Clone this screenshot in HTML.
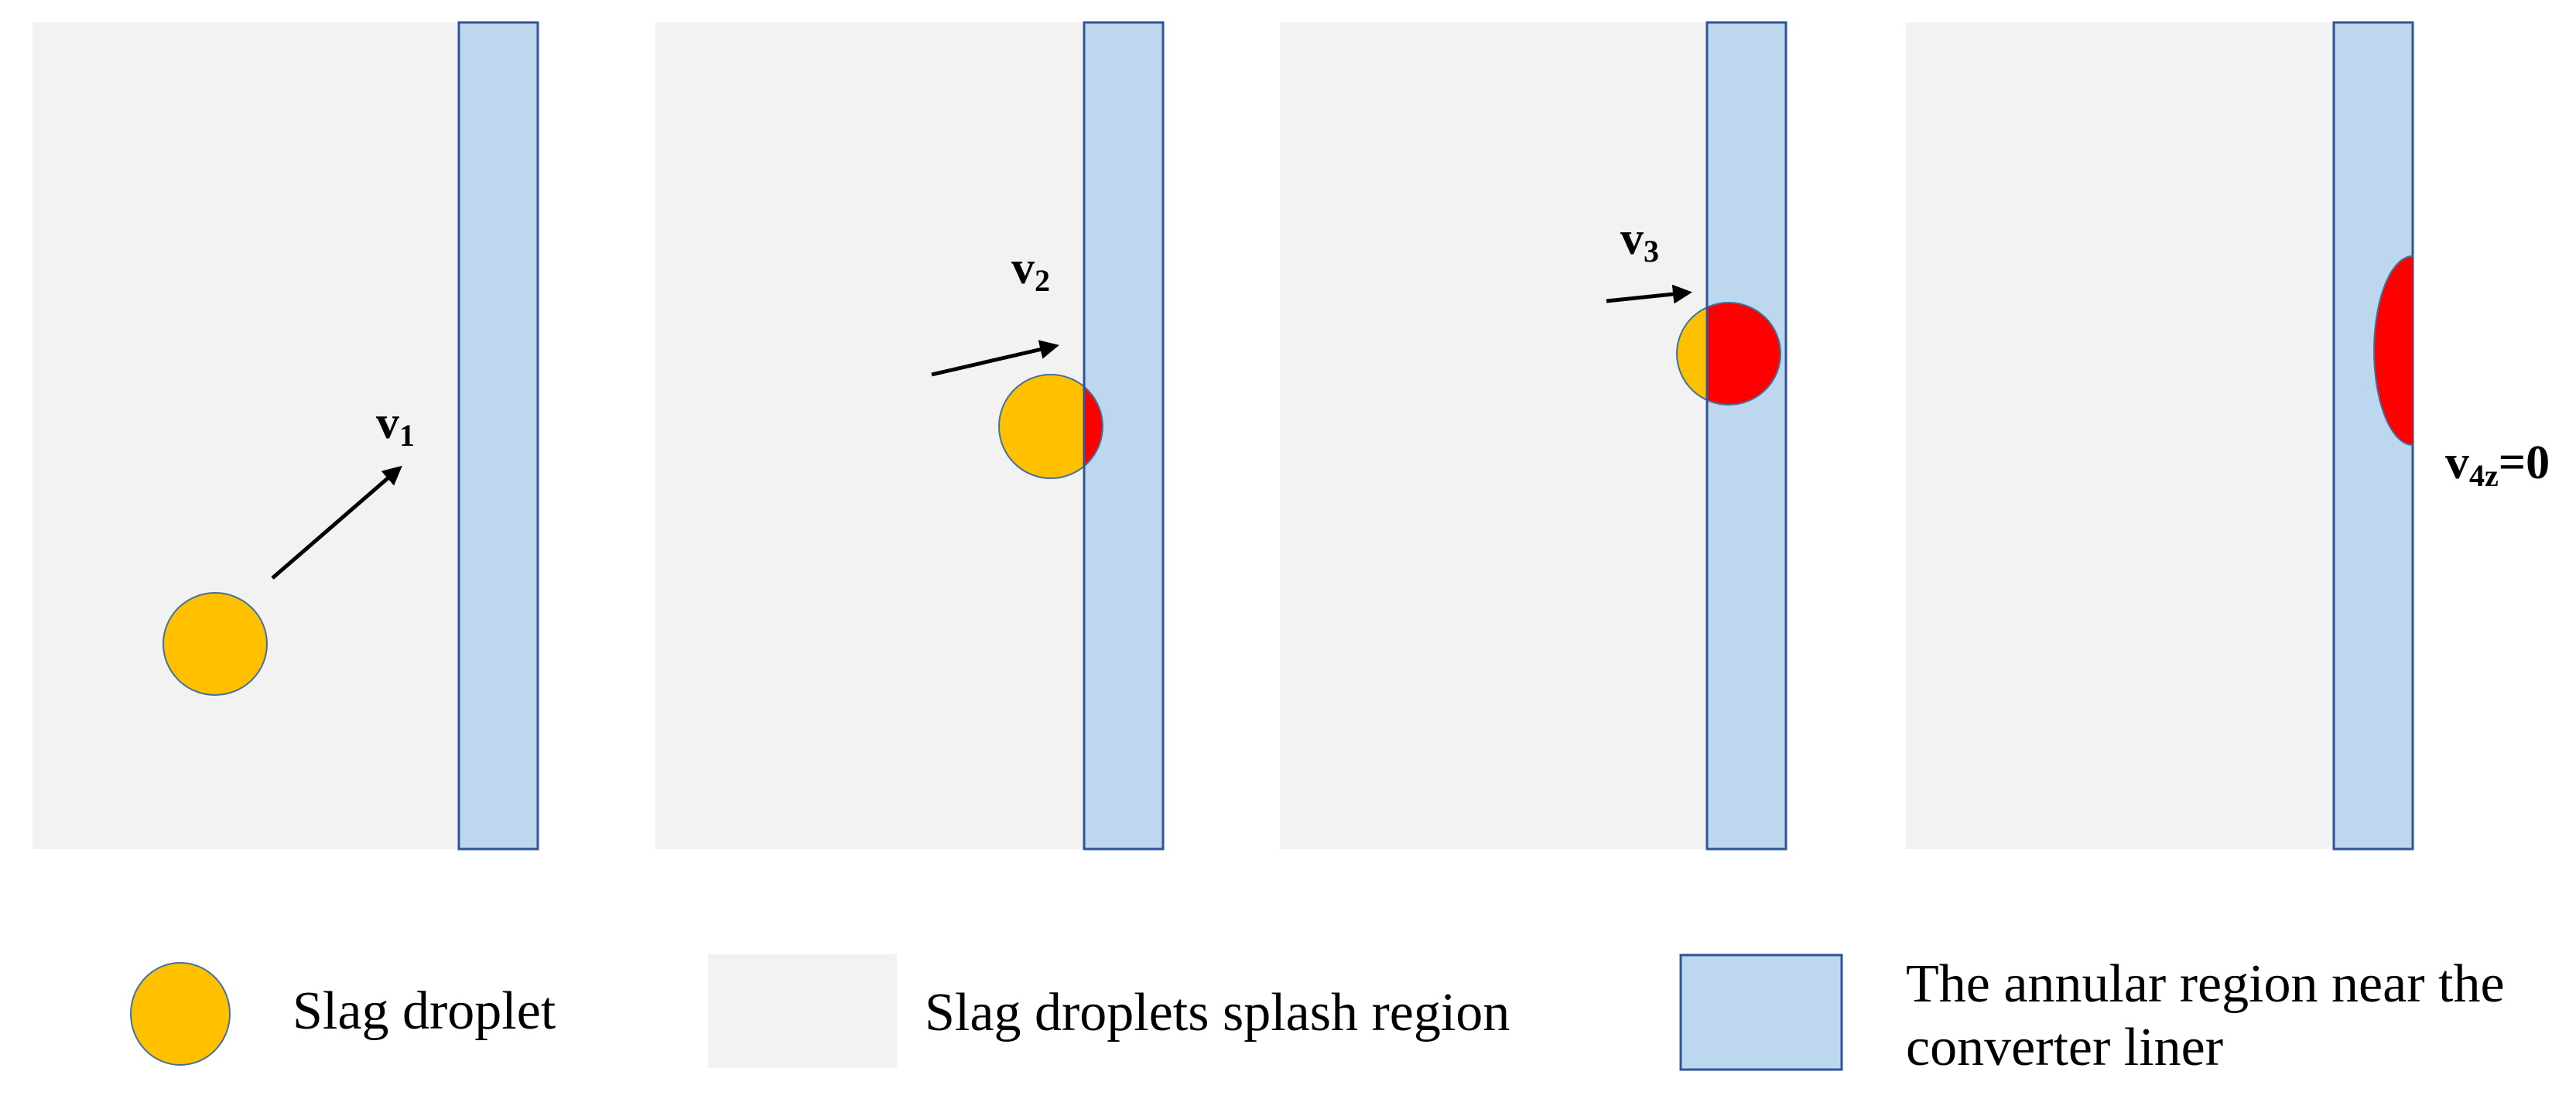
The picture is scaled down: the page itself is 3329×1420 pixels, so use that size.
<!DOCTYPE html>
<html><head><meta charset="utf-8"><style>
html,body{margin:0;padding:0;background:#fff;}
body{width:3329px;height:1415px;overflow:hidden;}
</style></head><body>
<svg width="3329" height="1415" viewBox="0 0 3329 1415" xmlns="http://www.w3.org/2000/svg" font-family="Liberation Serif, serif">
<defs>
<marker id="ah" markerWidth="5" markerHeight="5" refX="4" refY="2.5" orient="auto" markerUnits="strokeWidth">
<path d="M0,0 L5,2.5 L0,5 z" fill="#000"/></marker>
<clipPath id="c2l"><rect x="0" y="0" width="1401" height="1415"/></clipPath>
<clipPath id="c2r"><rect x="1401" y="0" width="500" height="1415"/></clipPath>
<clipPath id="c3l"><rect x="0" y="0" width="2206" height="1415"/></clipPath>
<clipPath id="c3r"><rect x="2206" y="0" width="500" height="1415"/></clipPath>
<clipPath id="c4"><rect x="2900" y="0" width="218" height="1415"/></clipPath>
</defs>
<rect x="42" y="29" width="552" height="1068" fill="#f2f2f2"/>
<rect x="593" y="29" width="102" height="1068" fill="#bdd7ee" stroke="#2f5597" stroke-width="3"/>
<rect x="847" y="29" width="556" height="1068" fill="#f2f2f2"/>
<rect x="1401" y="29" width="102" height="1068" fill="#bdd7ee" stroke="#2f5597" stroke-width="3"/>
<rect x="1654" y="29" width="554" height="1068" fill="#f2f2f2"/>
<rect x="2206" y="29" width="102" height="1068" fill="#bdd7ee" stroke="#2f5597" stroke-width="3"/>
<rect x="2463" y="29" width="555" height="1068" fill="#f2f2f2"/>
<rect x="3016" y="29" width="102" height="1068" fill="#bdd7ee" stroke="#2f5597" stroke-width="3"/>

<ellipse cx="278" cy="832" rx="67" ry="66" fill="#ffc000" stroke="#41719c" stroke-width="2"/>
<line x1="352" y1="747" x2="516" y2="605" stroke="#000" stroke-width="5" marker-end="url(#ah)"/>
<text x="486" y="566" font-size="60" font-weight="bold">v<tspan font-size="40" dy="10">1</tspan></text>

<ellipse cx="1358" cy="551" rx="67" ry="67" fill="#ffc000" clip-path="url(#c2l)"/>
<ellipse cx="1358" cy="551" rx="67" ry="67" fill="#ff0000" clip-path="url(#c2r)"/>
<ellipse cx="1358" cy="551" rx="67" ry="67" fill="none" stroke="#41719c" stroke-width="2"/>
<line x1="1401" y1="484" x2="1401" y2="618" stroke="#2f5597" stroke-width="3"/>
<line x1="1204" y1="484" x2="1364" y2="447" stroke="#000" stroke-width="5" marker-end="url(#ah)"/>
<text x="1307" y="366" font-size="60" font-weight="bold">v<tspan font-size="40" dy="10">2</tspan></text>

<ellipse cx="2234" cy="457" rx="67" ry="66" fill="#ffc000" clip-path="url(#c3l)"/>
<ellipse cx="2234" cy="457" rx="67" ry="66" fill="#ff0000" clip-path="url(#c3r)"/>
<ellipse cx="2234" cy="457" rx="67" ry="66" fill="none" stroke="#41719c" stroke-width="2"/>
<line x1="2206" y1="392" x2="2206" y2="522" stroke="#2f5597" stroke-width="3"/>
<line x1="2076" y1="389" x2="2182" y2="378" stroke="#000" stroke-width="5" marker-end="url(#ah)"/>
<text x="2094" y="328" font-size="60" font-weight="bold">v<tspan font-size="40" dy="10">3</tspan></text>

<ellipse cx="3118" cy="453" rx="50" ry="122" fill="#ff0000" stroke="#41719c" stroke-width="2" clip-path="url(#c4)"/>
<text x="3160" y="618" font-size="62" font-weight="bold">v<tspan font-size="40" dy="10">4z</tspan><tspan dy="-10">=0</tspan></text>

<ellipse cx="233" cy="1310" rx="64" ry="66" fill="#ffc000" stroke="#41719c" stroke-width="2"/>
<text x="378" y="1329" font-size="70">Slag droplet</text>
<rect x="915" y="1233" width="244" height="147" fill="#f2f2f2"/>
<text x="1195" y="1331" font-size="70">Slag droplets splash region</text>
<rect x="2172" y="1234" width="208" height="148" fill="#bdd7ee" stroke="#2f5597" stroke-width="3"/>
<text x="2463" y="1294" font-size="70">The annular region near the</text>
<text x="2463" y="1376" font-size="70">converter liner</text>
</svg>
</body></html>
